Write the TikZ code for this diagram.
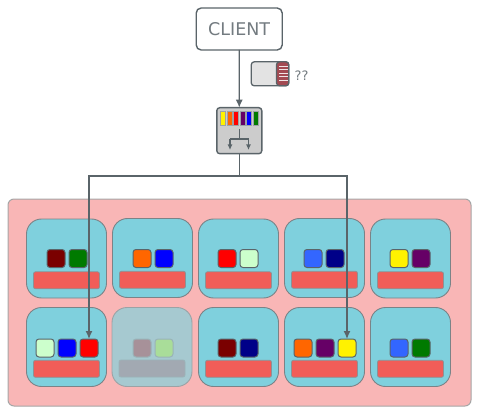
\documentclass[tikz,border=0pt]{standalone}
\usepackage{fontspec}
\usetikzlibrary{arrows.meta}
\setmainfont{DejaVu Sans}
\definecolor{edgegray}{HTML}{5A6469}
\definecolor{panelpink}{HTML}{F9B6B6}
\definecolor{cardblue}{HTML}{7FD0DD}
\definecolor{barred}{HTML}{F15D58}
\definecolor{maroon}{HTML}{7A0000}
\definecolor{leaf}{HTML}{007A00}
\definecolor{tangerine}{HTML}{FF6600}
\definecolor{mint}{HTML}{CCFFCC}
\definecolor{sky}{HTML}{3366FF}
\definecolor{navy}{HTML}{000088}
\definecolor{plum}{HTML}{660066}
\definecolor{fadecard}{HTML}{A6C9D0}
\definecolor{fadebar}{HTML}{A2A9B2}
\definecolor{fadeone}{HTML}{A79199}
\definecolor{fadetwo}{HTML}{A9DD99}
\definecolor{lockred}{HTML}{A34A52}

\begin{document}
\begin{tikzpicture}[x=1pt,y=-1pt,
        box/.style={draw=edgegray, rounded corners=5pt, line width=1.4pt,
                        fill=white, inner sep=0pt, outer sep=0pt,
                        minimum width=86pt, minimum height=42pt,
                        text=edgegray!85, font=\fontsize{17.5pt}{20pt}\selectfont},
        panel/.style={draw=black!35, fill=panelpink, rounded corners=6pt,
                        line width=1pt, inner sep=0pt, outer sep=0pt,
                        minimum width=463pt, minimum height=207pt},
        card/.style={draw=edgegray!80, fill=cardblue, rounded corners=15pt,
                        line width=.9pt, inner sep=0pt, outer sep=0pt,
                        minimum width=80pt, minimum height=79pt},
        bar/.style={draw=edgegray!70, fill=barred, rounded corners=2pt,
                        line width=.8pt, inner sep=0pt, outer sep=0pt,
                        minimum width=66pt, minimum height=17pt},
        sq/.style={draw=edgegray, fill=#1, rounded corners=3pt,
                        line width=1pt, inner sep=0pt, outer sep=0pt,
                        minimum width=18pt, minimum height=18pt},
        chip/.style={fill=#1, draw=edgegray!60, line width=.3pt, inner sep=0pt, outer sep=0pt,
                        minimum width=5.2pt, minimum height=13.5pt},
        link/.style={draw=edgegray, line width=1.3pt, -{Latex[length=8pt,width=7pt]}}]
    \useasboundingbox (0,0) rectangle (480,412);

    \node[panel] (pool) at (239.5,302.5) {};

    % cards
    \foreach \name/\x/\y in {a/66.5/258.5, b/152.5/258, c/238.5/258.5, d/324.5/258, e/410.5/258.5,
                             f/66.5/347, h/238.5/347, i/324.5/347, j/410.5/347} {
        \node[card] (card\name) at (\x,\y) {};
        \node[bar] (bar\name) at (\x,\y+21.8) {};
    }
    \node[card, draw=edgegray!60, fill=fadecard] (cardg) at (152,347) {};
    \node[bar, draw=fadecard!70!gray, fill=fadebar] (barg) at (152,368.5) {};

    \foreach \name/\x/\y/\col in {
            a1/56/258.5/maroon, a2/78/258.5/leaf,
            b1/142/258.5/tangerine, b2/164/258.5/blue,
            c1/227/258.5/red, c2/249/258.5/mint,
            d1/313/258.5/sky, d2/335/258.5/navy,
            e1/399/258.5/yellow, e2/421/258.5/plum,
            f1/45/348/mint, f2/67/348/blue, f3/89/348/red,
            h1/227/348/maroon, h2/249/348/navy,
            i1/303/348/tangerine, i2/325/348/plum, i3/347/348/yellow,
            j1/399/348/sky, j2/421/348/leaf} {
        \node[sq=\col] (s\name) at (\x,\y) {};
    }
    \node[sq=fadeone, draw=fadecard!70!gray] (sg1) at (142,348) {};
    \node[sq=fadetwo, draw=fadecard!70!gray] (sg2) at (164,348) {};

    % client and balancer
    \node[box] (client) at (239.2,29) {CLIENT};
    \node[draw=edgegray, fill=black!20, rounded corners=3pt, line width=1.4pt,
            inner sep=0pt, outer sep=0pt,
            minimum width=45pt, minimum height=46pt] (lb) at (239.3,130.7) {};
    \foreach \x/\col in {223/yellow, 229.5/tangerine, 236/red, 242.5/plum, 249/blue, 255.5/leaf} {
        \node[chip=\col] (chip\x) at (\x,118.4) {};
    }
    \coordinate (fork) at (239.3,139);
    \coordinate (forkl) at (230,139);
    \coordinate (forkr) at (248.5,139);
    \coordinate (forkld) at (230,150);
    \coordinate (forkrd) at (248.5,150);
    \draw[edgegray, line width=1.1pt] (239.3,129) -- (fork) (forkl) -- (forkr);
    \draw[edgegray, line width=1.1pt, -{Latex[length=5.5pt,width=5pt]}] (forkl) -- (forkld);
    \draw[edgegray, line width=1.1pt, -{Latex[length=5.5pt,width=5pt]}] (forkr) -- (forkrd);

    % memory card
    \node[draw=edgegray, fill=black!11, rounded corners=3pt, line width=1.3pt,
            inner sep=0pt, outer sep=0pt,
            minimum width=37.5pt, minimum height=24pt] (sdcard) at (270,73.8) {};
    \fill[fill=lockred, draw=edgegray, line width=1.3pt, rounded corners=3pt]
        (276.5,61.8) -- (288.8,61.8) -- (288.8,85.8) -- (276.5,85.8) -- cycle;
    \foreach \y in {66,69.5,73,76.5,80} {
        \draw[white!85!lockred, line width=.9pt] (279,\y) -- (287.5,\y);
    }
    \node[text=edgegray!85, font=\fontsize{13pt}{15pt}\selectfont, inner sep=0pt] (unknown) at (301.5,76) {??};

    % connectors
    \coordinate (split) at (239.3,176);
    \draw[link] (client) -- (lb);
    \draw[link, -] (lb) -- (split);
    \draw[link] (split) -| (sf3.north);
    \draw[link] (split) -| (si3.north);
\end{tikzpicture}
\end{document}
